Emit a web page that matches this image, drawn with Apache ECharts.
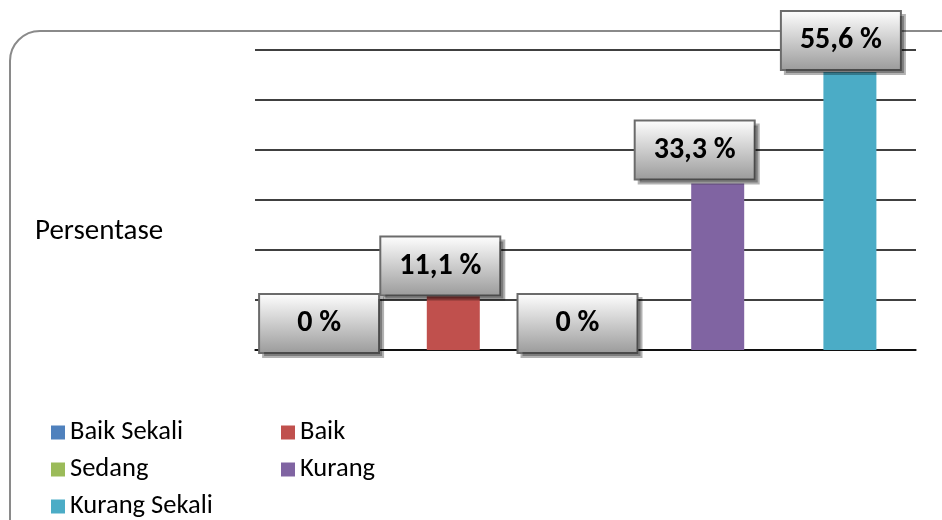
<!DOCTYPE html>
<html><head><meta charset="utf-8">
<script src="https://cdn.jsdelivr.net/npm/echarts@6/dist/echarts.min.js"></script>
<style>html,body{margin:0;padding:0;background:#fff}#c{width:942px;height:520px}</style>
</head><body><div id="c"></div>
<script>
const categories = ['Baik Sekali', 'Baik', 'Sedang', 'Kurang', 'Kurang Sekali'];
const values = [0, 11.1, 0, 33.3, 55.6];
const colors = ['#4F81BD', '#C0504D', '#9BBB59', '#8064A2', '#4BACC6'];
const yTicks = [0, 10, 20, 30, 40, 50, 60];
const axisName = 'Persentase';
const legendOrder = ['Baik Sekali', 'Baik', 'Sedang', 'Kurang', 'Kurang Sekali'];

// label box nudges (styling only)
const labelNudge = [[-2, 2], [-13, 0], [-8, 2], [-23, -5], [-9, -3]];

const font = 'Carlito, "Noto Sans", sans-serif';
const chart = echarts.init(document.getElementById('c'));
const series = categories.map((name, i) => ({
  name: name,
  type: 'bar',
  stack: 'all',
  barWidth: 53,
  itemStyle: { color: colors[i] },
  data: categories.map((c, j) => j === i ? values[i] : '-'),
  label: {
    show: true,
    position: 'top',
    distance: 0,
    offset: labelNudge[i],
    formatter: p => String(p.value).replace('.', ',') + ' %',
    fontFamily: font,
    fontWeight: 'bold',
    fontSize: 30,
    color: '#000',
    width: 118,
    height: 57,
    lineHeight: 57,
    align: 'center',
    backgroundColor: { type: 'linear', x: 0, y: 0, x2: 0, y2: 1,
      colorStops: [{ offset: 0, color: '#ffffff' }, { offset: 1, color: '#9a9a9a' }] },
    borderColor: '#6b6b6b',
    borderWidth: 2,
    shadowColor: 'rgba(0,0,0,0.3)',
    shadowBlur: 0,
    shadowOffsetX: 4,
    shadowOffsetY: 4
  }
}));

chart.setOption({
  animation: false,
  graphic: [
    { type: 'rect', z: -10, shape: { x: 10, y: 31, width: 1000, height: 600, r: 30 },
      style: { fill: 'none', stroke: '#8a8a8a', lineWidth: 2 } },
    { type: 'text', left: 35, top: 217, style: { text: axisName, font: '29px ' + font, fill: '#000' } }
  ],
  grid: { left: 255, right: 26, top: 50, bottom: 170 },
  xAxis: { type: 'category', data: categories,
    axisLine: { lineStyle: { color: '#000', width: 1.5 } },
    axisTick: { show: false }, axisLabel: { show: false } },
  yAxis: { type: 'value', min: yTicks[0], max: yTicks[yTicks.length - 1], interval: 10,
    axisLine: { show: false }, axisTick: { show: false }, axisLabel: { show: false },
    splitLine: { lineStyle: { color: '#000', width: 1.5 } } },
  legend: {
    data: legendOrder,
    left: 46, top: 413, width: 480,
    itemWidth: 14, itemHeight: 14, itemGap: 8,
    icon: 'rect',
    formatter: n => '{a|' + n + '}',
    textStyle: { rich: { a: { width: 203, height: 29, lineHeight: 29, fontSize: 26.5, fontFamily: font, color: '#000' } } }
  },
  series: series
});
</script></body></html>
